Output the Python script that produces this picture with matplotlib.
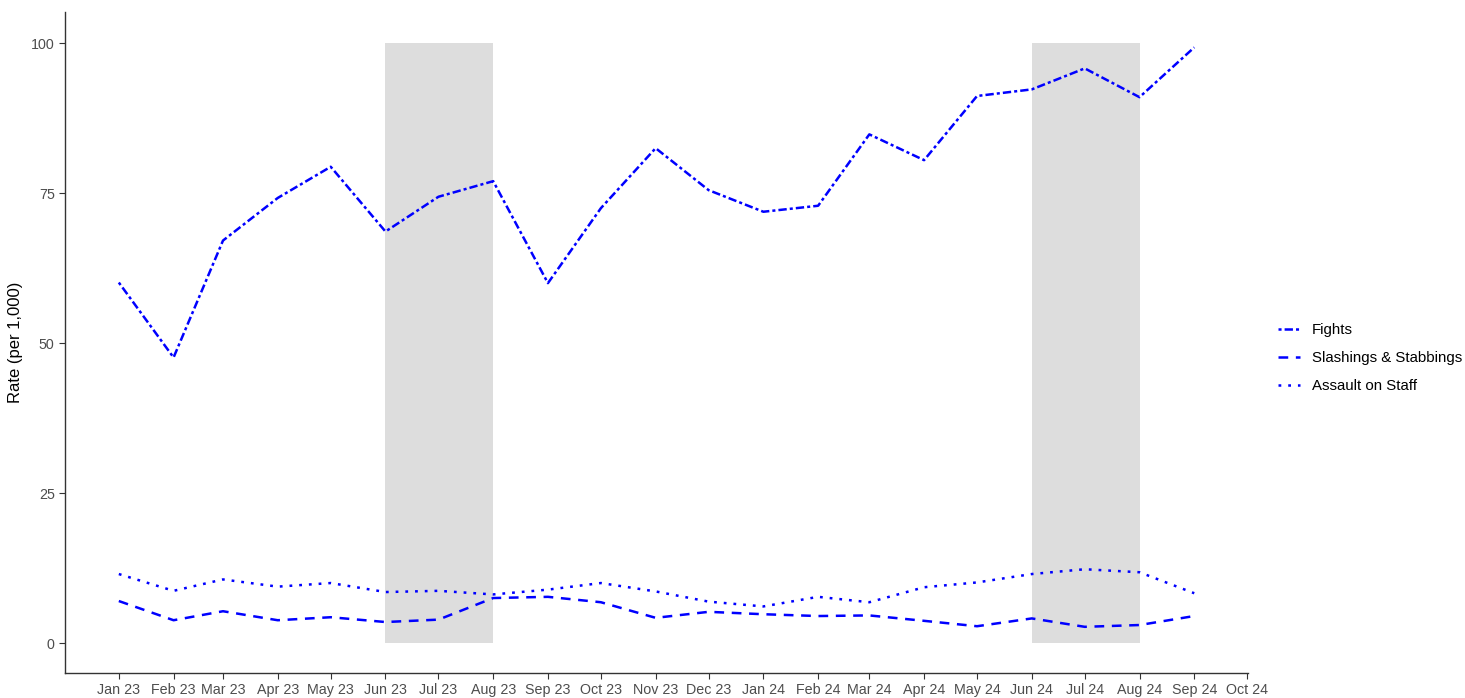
import numpy as np
import pandas as pd
import matplotlib
matplotlib.use('Agg')
from matplotlib import pyplot as plt
import matplotlib.dates as mdates

plt.rcParams['font.family'] = ['Liberation Sans', 'DejaVu Sans']
plt.rcParams['lines.scale_dashes'] = False

months = pd.date_range('2023-01-01', '2024-09-01', freq='MS')
fights = [60.1, 47.6, 67.1, 74.2, 79.4, 68.6, 74.4, 77.0, 60.0, 72.5, 82.5,
          75.5, 71.9, 72.9, 84.8, 80.5, 91.2, 92.3, 95.8, 91.0, 99.3]
slashings = [7.0, 3.8, 5.3, 3.8, 4.3, 3.5, 3.9, 7.5, 7.7, 6.8, 4.2,
             5.2, 4.8, 4.5, 4.6, 3.7, 2.8, 4.1, 2.7, 3.0, 4.5]
assault = [11.5, 8.7, 10.6, 9.4, 10.0, 8.5, 8.7, 8.1, 8.9, 10.0, 8.6,
           6.9, 6.1, 7.7, 6.8, 9.3, 10.1, 11.5, 12.3, 11.8, 8.3]
shaded = [('2023-06-01', '2023-08-01'), ('2024-06-01', '2024-08-01')]

fig = plt.figure(figsize=(14.65, 6.98), dpi=100)
ax = fig.add_axes([0.0444, 0.0358, 0.8075, 0.947])

for a, b in shaded:
    ax.axvspan(pd.Timestamp(a), pd.Timestamp(b), ymin=5/110.2, ymax=105/110.2,
               color='#dddddd', lw=0, zorder=0)

ax.plot(months, fights, color='blue', lw=1.8, dashes=(2.2, 2.2, 6, 2.2),
        dash_capstyle='butt', label='Fights')
ax.plot(months, slashings, color='blue', lw=1.8, dashes=(7, 5.5),
        dash_capstyle='butt', label='Slashings & Stabbings')
ax.plot(months, assault, color='blue', lw=1.8, dashes=(2, 5),
        dash_capstyle='butt', label='Assault on Staff')

pad = pd.Timedelta(days=30.45)
ax.set_xlim(months[0] - pad, months[-1] + pad)
ax.set_ylim(-5, 105.2)
ax.set_yticks([0, 25, 50, 75, 100])
ax.xaxis.set_major_locator(mdates.MonthLocator())
ax.xaxis.set_major_formatter(mdates.DateFormatter('%b %y'))
ax.tick_params(colors='#333333', labelcolor='#4d4d4d', labelsize=10.3, length=4, width=0.8)
ax.set_ylabel('Rate (per 1,000)', fontsize=12, labelpad=6)

for s in ['top', 'right']:
    ax.spines[s].set_visible(False)
for s in ['left', 'bottom']:
    ax.spines[s].set_color('#333333')
    ax.spines[s].set_linewidth(1)

leg = ax.legend(loc='center left', bbox_to_anchor=(0.8724, 0.487),
                bbox_transform=fig.transFigure, frameon=False,
                fontsize=10.8, handlelength=1.45, labelspacing=0.95,
                handletextpad=0.8, borderaxespad=0, borderpad=0)

fig.savefig('out.png', dpi=100)
